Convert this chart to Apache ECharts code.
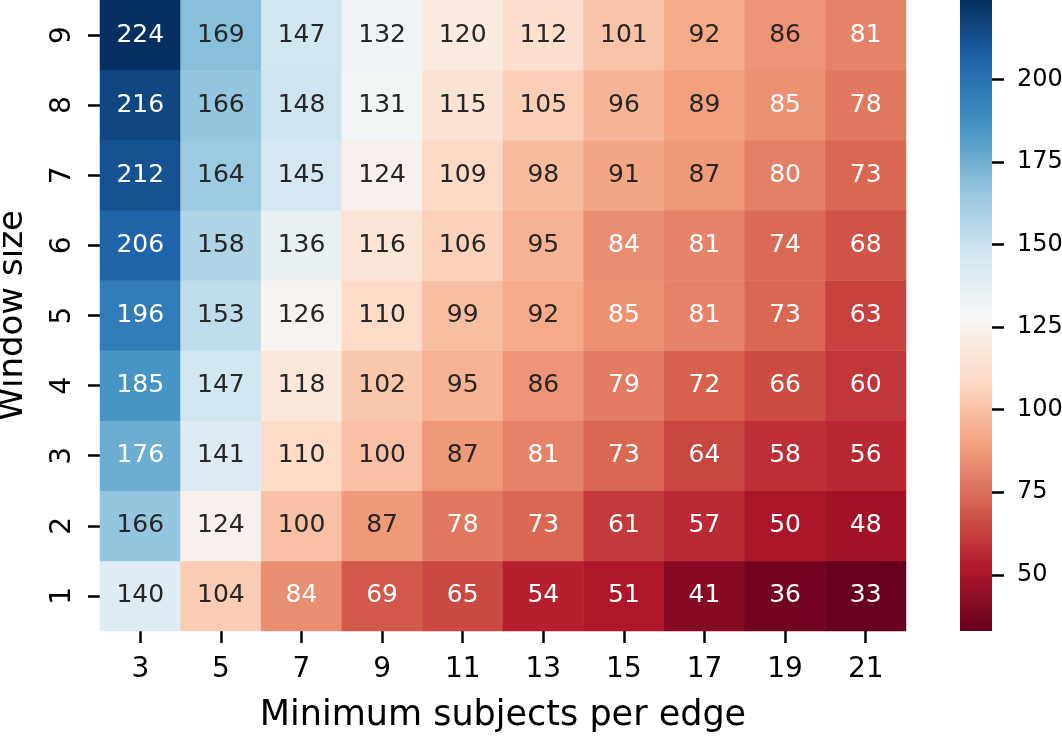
<!DOCTYPE html>
<html>
<head>
<meta charset="utf-8">
<script src="https://cdn.jsdelivr.net/npm/echarts@6/dist/echarts.min.js"></script>
<style>html,body{margin:0;padding:0;background:#fff}#c{width:1062px;height:738px}</style>
</head>
<body>
<div id="c"></div>
<script>
const xCategories = ['3','5','7','9','11','13','15','17','19','21'];
const yCategories = ['1','2','3','4','5','6','7','8','9'];
// rows from window size 1 (bottom) to 9 (top)
const row1 = [140,104,84,69,65,54,51,41,36,33];
const row2 = [166,124,100,87,78,73,61,57,50,48];
const row3 = [176,141,110,100,87,81,73,64,58,56];
const row4 = [185,147,118,102,95,86,79,72,66,60];
const row5 = [196,153,126,110,99,92,85,81,73,63];
const row6 = [206,158,136,116,106,95,84,81,74,68];
const row7 = [212,164,145,124,109,98,91,87,80,73];
const row8 = [216,166,148,131,115,105,96,89,85,78];
const row9 = [224,169,147,132,120,112,101,92,86,81];
const rows = [row1,row2,row3,row4,row5,row6,row7,row8,row9];
const colorbarTicks = [50,75,100,125,150,175,200];
const vMin = 33, vMax = 224;

const RdBu = ['#67001f','#b2182b','#d6604d','#f4a582','#fddbc7','#f7f7f7','#d1e5f0','#92c5de','#4393c3','#2166ac','#053061'];
function hex2rgb(h){return [parseInt(h.substr(1,2),16),parseInt(h.substr(3,2),16),parseInt(h.substr(5,2),16)];}
function cmap(v){
  let t=(v-vMin)/(vMax-vMin); t=Math.max(0,Math.min(1,t));
  const p=t*(RdBu.length-1); const i=Math.min(Math.floor(p),RdBu.length-2); const f=p-i;
  const a=hex2rgb(RdBu[i]), b=hex2rgb(RdBu[i+1]);
  return a.map((x,k)=>x+(b[k]-x)*f);
}
function lum(rgb){
  const c=rgb.map(x=>{x/=255;return x<=0.03928?x/12.92:Math.pow((x+0.055)/1.055,2.4);});
  return 0.2126*c[0]+0.7152*c[1]+0.0722*c[2];
}
const data=[];
rows.forEach((r,yi)=>r.forEach((v,xi)=>{
  data.push({value:[xi,yi,v],label:{color: lum(cmap(v))>0.408 ? '#262626' : '#ffffff'}});
}));

const FONT='DejaVu Sans';
const CB={left:960,top:0,width:32,height:631};
const chart=echarts.init(document.getElementById('c'));
chart.setOption({
  animation:false,
  textStyle:{fontFamily:FONT},
  grid:[
    {left:100,top:0,width:806,height:631,outerBoundsMode:'none',containLabel:false},
    {left:CB.left,top:CB.top,width:CB.width,height:CB.height,outerBoundsMode:'none',containLabel:false}
  ],
  xAxis:[
    {type:'category',data:xCategories,gridIndex:0,
     axisLine:{show:false},
     axisTick:{show:true,alignWithLabel:true,length:12,lineStyle:{color:'#000',width:2.5}},
     axisLabel:{color:'#000',fontSize:28,margin:25,fontFamily:FONT},
     name:'Minimum subjects per edge',nameLocation:'middle',nameGap:67,
     nameTextStyle:{color:'#000',fontSize:35,fontFamily:FONT},
     splitLine:{show:false}},
    {type:'category',data:['c'],gridIndex:1,show:false}
  ],
  yAxis:[
    {type:'category',data:yCategories,gridIndex:0,
     axisLine:{show:false},
     axisTick:{show:true,alignWithLabel:true,length:12,lineStyle:{color:'#000',width:2.5}},
     axisLabel:{color:'#000',fontSize:28,margin:23,rotate:90,fontFamily:FONT},
     name:'Window size',nameLocation:'middle',nameGap:70,nameRotate:90,
     nameTextStyle:{color:'#000',fontSize:34,fontFamily:FONT},
     splitLine:{show:false}},
    {type:'value',gridIndex:1,position:'right',min:vMin,max:vMax,
     axisLine:{show:false},splitLine:{show:false},
     axisTick:{show:true,length:12,customValues:colorbarTicks,lineStyle:{color:'#000',width:2.5}},
     axisLabel:{show:true,color:'#000',fontSize:24,margin:25,customValues:colorbarTicks,fontFamily:FONT}}
  ],
  visualMap:{
    type:'continuous',min:vMin,max:vMax,seriesIndex:0,show:false,
    inRange:{color:RdBu}
  },
  graphic:[{
    type:'rect',left:CB.left,top:CB.top,z:-1,
    shape:{x:0,y:0,width:CB.width,height:CB.height},
    style:{fill:new echarts.graphic.LinearGradient(0,1,0,0,RdBu.map((c,i)=>({offset:i/(RdBu.length-1),color:c})))}
  }],
  series:[{
    type:'heatmap',xAxisIndex:0,yAxisIndex:0,data:data,
    label:{show:true,fontSize:25,fontFamily:FONT,formatter:p=>p.value[2]},
    itemStyle:{borderWidth:0},
    emphasis:{disabled:true}
  }]
});
</script>
</body>
</html>
